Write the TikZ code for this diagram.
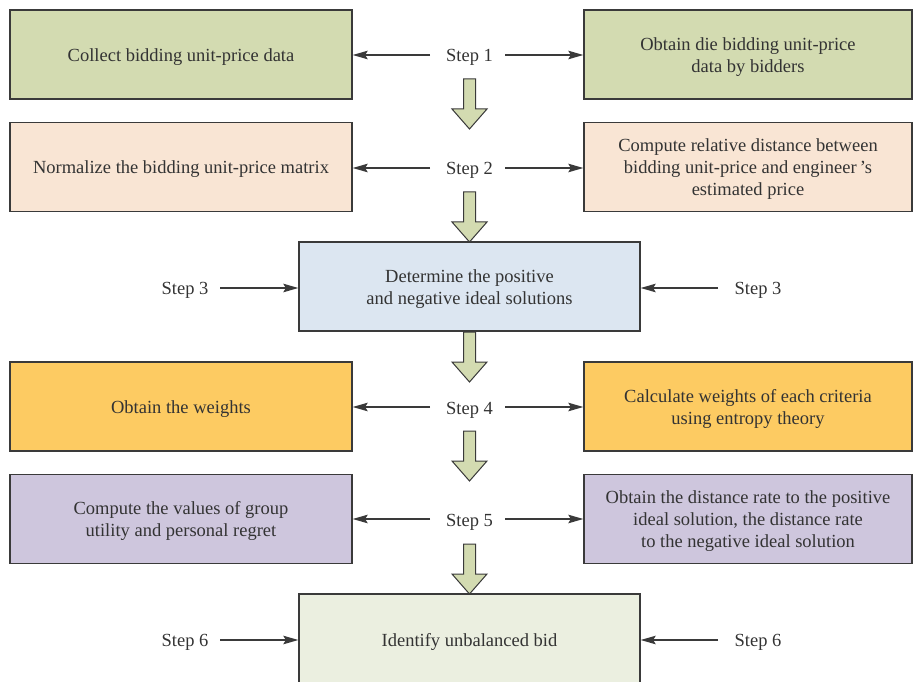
\documentclass[tikz,border=0pt]{standalone}
\usepackage{fontspec}
\setmainfont{Liberation Serif}
\usetikzlibrary{arrows.meta}
\definecolor{cgreen}{HTML}{D3DBB1}
\definecolor{cpeach}{HTML}{F9E5D4}
\definecolor{cblue}{HTML}{DCE6F1}
\definecolor{corange}{HTML}{FDCB62}
\definecolor{cpurple}{HTML}{CEC6DD}
\definecolor{cpale}{HTML}{EBEFE0}
\definecolor{cline}{HTML}{3A3A3A}
\definecolor{ctext}{HTML}{333333}
\newcommand\bt[1]{\raisebox{-2.5pt}[\height][\depth]{\begin{tabular}{@{}c@{}}#1\end{tabular}}}
\tikzset{
  box/.style={draw=cline, line width=1.3pt, text=ctext, font=\fontsize{18.5}{22}\selectfont, inner sep=0pt, minimum height=89pt},
  lbox/.style={box, minimum width=342pt},
  rbox/.style={box, minimum width=328pt},
  cbox/.style={box, minimum width=341pt},
  steplabel/.style={text=ctext, font=\fontsize{18.5}{22}\selectfont, inner sep=0pt},
  conn/.style={draw=cline, line width=1.2pt, -{Stealth[length=15pt,width=8.5pt,inset=2.5pt]}},
  blockarrow/.pic={\draw[cline, line width=1pt, fill=cgreen, line join=miter]
     (-6,0) -- (6,0) -- (6,30) -- (17.5,30) -- (0,50) -- (-17.5,30) -- (-6,30) -- cycle;}
}
\begin{document}
\begin{tikzpicture}[x=1pt,y=-1pt]
\useasboundingbox (0,0) rectangle (914,682);
\clip (0,0) rectangle (914,682);
% row 1
\node[lbox, fill=cgreen] (l1) at (181,54.5) {\bt{Collect bidding unit-price data}};
\node[rbox, fill=cgreen] (r1) at (748,54.5) {\bt{Obtain die bidding unit-price\\data by bidders}};
\node[steplabel] (s1) at (469.5,57) {Step 1};
\coordinate (s1a) at (430,55);
\coordinate (s1b) at (505,55);
\draw[conn] (s1a) -- (l1.east |- s1a);
\draw[conn] (s1b) -- (r1.west |- s1b);
% row 2
\node[lbox, fill=cpeach] (l2) at (181,167) {\bt{Normalize the bidding unit-price matrix}};
\node[rbox, fill=cpeach] (r2) at (748,167) {\bt{Compute relative distance between\\bidding unit-price and engineer\,'s\\estimated price}};
\node[steplabel] (s2) at (469.5,170) {Step 2};
\coordinate (s2a) at (430,168);
\coordinate (s2b) at (505,168);
\draw[conn] (s2a) -- (l2.east |- s2a);
\draw[conn] (s2b) -- (r2.west |- s2b);
% row 3
\node[cbox, fill=cblue] (c3) at (469.5,286.5) {\bt{Determine the positive\\and negative ideal solutions}};
\node[steplabel] (s3l) at (185,290) {Step 3};
\node[steplabel] (s3r) at (758,290) {Step 3};
\coordinate (s3la) at (220,288);
\coordinate (s3ra) at (718,288);
\draw[conn] (s3la) -- (c3.west |- s3la);
\draw[conn] (s3ra) -- (c3.east |- s3ra);
% row 4
\node[lbox, fill=corange] (l4) at (181,406.5) {\bt{Obtain the weights}};
\node[rbox, fill=corange] (r4) at (748,406.5) {\bt{Calculate weights of each criteria\\using entropy theory}};
\node[steplabel] (s4) at (469.5,410) {Step 4};
\coordinate (s4a) at (430,407);
\coordinate (s4b) at (505,407);
\draw[conn] (s4a) -- (l4.east |- s4a);
\draw[conn] (s4b) -- (r4.west |- s4b);
% row 5
\node[lbox, fill=cpurple] (l5) at (181,519) {\bt{Compute the values of group\\utility and personal regret}};
\node[rbox, fill=cpurple] (r5) at (748,519) {\bt{Obtain the distance rate to the positive\\ideal solution, the distance rate\\to the negative ideal solution}};
\node[steplabel] (s5) at (469.5,522) {Step 5};
\coordinate (s5a) at (430,519);
\coordinate (s5b) at (505,519);
\draw[conn] (s5a) -- (l5.east |- s5a);
\draw[conn] (s5b) -- (r5.west |- s5b);
% row 6
\node[cbox, fill=cpale, minimum height=92pt] (c6) at (469.5,640) {\bt{Identify unbalanced bid}};
\node[steplabel] (s6l) at (185,642) {Step 6};
\node[steplabel] (s6r) at (758,642) {Step 6};
\coordinate (s6la) at (220,640);
\coordinate (s6ra) at (718,640);
\draw[conn] (s6la) -- (c6.west |- s6la);
\draw[conn] (s6ra) -- (c6.east |- s6ra);
% block arrows
\pic at (469.5,79) {blockarrow};
\pic at (469.5,192) {blockarrow};
\pic at (469.5,332) {blockarrow};
\pic at (469.5,431) {blockarrow};
\pic at (469.5,544) {blockarrow};
\end{tikzpicture}
\end{document}
